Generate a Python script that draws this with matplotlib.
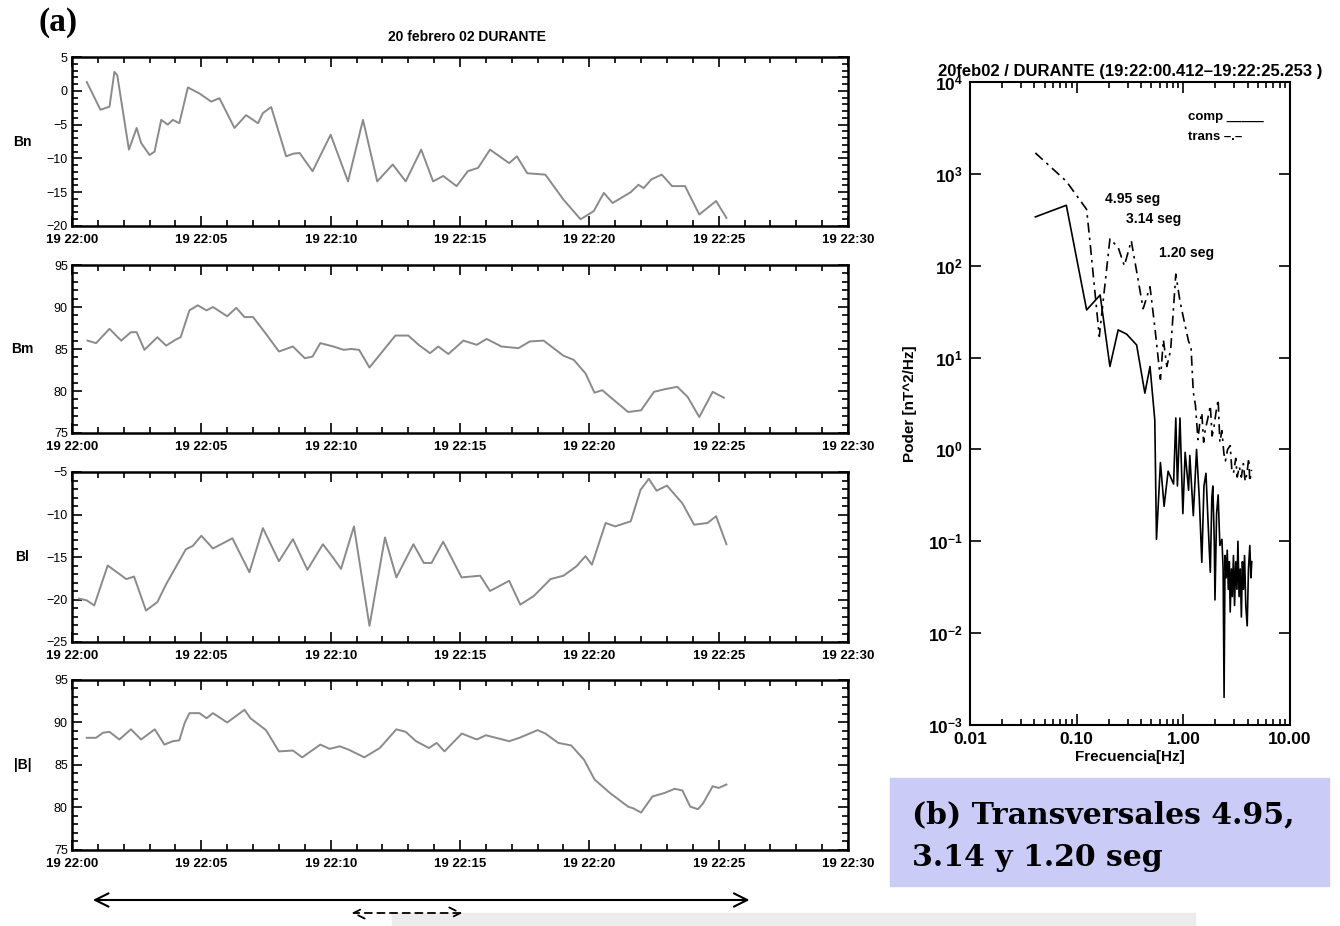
import numpy as np
import matplotlib
matplotlib.use("Agg")
import matplotlib.pyplot as plt
from matplotlib.ticker import FixedLocator, MultipleLocator, LogLocator, NullLocator, FuncFormatter
from matplotlib.patches import Rectangle

plt.rcParams['font.family'] = ['Liberation Sans', 'DejaVu Sans']

# --- field components, seconds after 19 22:00 ---
bn_t = [0.57, 1.1, 1.45, 1.64, 1.75, 2.2, 2.5, 2.67, 3.0, 3.19, 3.45, 3.7, 3.9, 4.15, 4.48,
        4.93, 5.38, 5.7, 6.28, 6.73, 7.19, 7.38, 7.7, 8.28, 8.55, 8.8, 9.3, 10.0, 10.67,
        11.25, 11.8, 12.4, 12.9, 13.5, 13.96, 14.35, 14.87, 15.3, 15.7, 16.16, 16.9, 17.2,
        17.6, 18.3, 19.0, 19.66, 20.17, 20.56, 20.9, 21.6, 21.9, 22.1, 22.4, 22.8, 23.2,
        23.7, 24.25, 24.9, 25.3]
bn_v = [1.3, -2.8, -2.35, 2.8, 2.3, -8.7, -5.5, -7.7, -9.5, -9.0, -4.3, -5.0, -4.3, -4.8, 0.5,
        -0.4, -1.6, -1.1, -5.5, -3.6, -4.8, -3.3, -2.4, -9.7, -9.3, -9.2, -11.9, -6.5, -13.4,
        -4.3, -13.4, -10.9, -13.4, -8.7, -13.4, -12.6, -14.1, -11.9, -11.4, -8.7, -10.7, -9.7,
        -12.2, -12.4, -16.1, -19.0, -17.8, -15.1, -16.6, -15.0, -13.9, -14.4, -13.1, -12.4, -14.1,
        -14.1, -18.3, -16.3, -18.8]

bm_t = [0.6, 0.93, 1.45, 1.9, 2.28, 2.5, 2.8, 3.3, 3.64, 4.0, 4.2, 4.54, 4.86, 5.2, 5.45, 6.0,
        6.35, 6.67, 7.0, 7.5, 8.0, 8.54, 9.0, 9.3, 9.6, 10.1, 10.5, 10.8, 11.1, 11.5, 12.0, 12.5,
        13.0, 13.4, 13.84, 14.16, 14.55, 15.13, 15.65, 16.03, 16.6, 17.26, 17.7, 18.23, 19.0,
        19.4, 19.85, 20.2, 20.5, 20.8, 21.5, 22.0, 22.5, 22.9, 23.4, 23.8, 24.25, 24.77, 25.2]
bm_v = [86.0, 85.7, 87.4, 86.0, 87.0, 87.0, 84.9, 86.4, 85.4, 86.1, 86.4, 89.6, 90.2, 89.6, 90.0, 88.9,
        89.9, 88.8, 88.8, 86.8, 84.7, 85.3, 83.9, 84.1, 85.7, 85.3, 84.9, 85.0, 84.9, 82.8, 84.7, 86.6,
        86.6, 85.5, 84.5, 85.3, 84.4, 86.0, 85.5, 86.2, 85.3, 85.1, 85.9, 86.0, 84.2,
        83.7, 82.1, 79.8, 80.1, 79.3, 77.5, 77.7, 79.9, 80.2, 80.5, 79.3, 76.9, 79.9, 79.2]

bl_t = [0.28, 0.57, 0.86, 1.38, 2.1, 2.4, 2.86, 3.3, 3.64, 4.4, 4.67, 5.0, 5.45, 6.2, 6.86, 7.38,
        8.0, 8.54, 9.1, 9.7, 10.1, 10.4, 10.9, 11.5, 12.1, 12.54, 13.2, 13.6, 13.9, 14.35, 14.74,
        15.06, 15.78, 16.16, 16.9, 17.33, 17.85, 18.5, 19.0, 19.5, 19.85, 20.1, 20.63, 21.0, 21.6,
        21.98, 22.3, 22.6, 23.0, 23.6, 24.05, 24.57, 24.9, 25.3]
bl_v = [-19.9, -20.1, -20.7, -16.0, -17.6, -17.3, -21.3, -20.3, -18.2, -14.1, -13.7, -12.5, -14.0,
        -12.8, -16.8, -11.6, -15.5, -12.9, -16.5, -13.5, -15.1, -16.4, -11.4, -23.1, -12.7, -17.4,
        -13.5, -15.7, -15.7, -13.2, -15.5, -17.4, -17.2, -19.0, -17.8, -20.6, -19.6, -17.6, -17.2,
        -16.1, -14.9, -15.9, -11.0, -11.4, -10.8, -7.1, -5.8, -7.2, -6.6, -8.7, -11.2, -11.0,
        -10.2, -13.5]

bt_t = [0.57, 0.93, 1.2, 1.45, 1.83, 2.28, 2.67, 3.2, 3.57, 3.9, 4.15, 4.35, 4.54, 4.93, 5.2, 5.45,
        6.0, 6.67, 6.9, 7.5, 8.0, 8.54, 8.9, 9.6, 9.96, 10.35, 10.7, 11.3, 11.9, 12.54, 12.9, 13.3,
        13.8, 14.1, 14.4, 15.07, 15.65, 16.0, 16.9, 17.3, 18.0, 18.3, 18.8, 19.3, 19.8, 20.2, 20.8,
        21.5, 21.7, 22.0, 22.44, 22.9, 23.3, 23.6, 23.9, 24.2, 24.4, 24.77, 25.0, 25.3]
bt_v = [88.2, 88.2, 88.8, 88.9, 88.0, 89.2, 88.0, 89.2, 87.4, 87.8, 87.9, 89.9, 91.1, 91.1, 90.5, 91.1,
        90.0, 91.5, 90.5, 89.1, 86.6, 86.7, 85.9, 87.4, 86.9, 87.2, 86.8, 85.9, 87.0, 89.2, 88.9, 87.8,
        87.0, 87.6, 86.6, 88.7, 88.0, 88.5, 87.8, 88.2, 89.1, 88.7, 87.6, 87.3, 85.6, 83.3, 81.7,
        80.1, 79.9, 79.4, 81.3, 81.7, 82.2, 82.0, 80.1, 79.8, 80.5, 82.5, 82.3, 82.7]

panel_names = ["Bn", "Bm", "Bl", "|B|"]
panel_ylims = [(-20, 5), (75, 95), (-25, -5), (75, 95)]
time_ticks = [0, 5, 10, 15, 20, 25, 30]
time_labels = ["19 22:00", "19 22:05", "19 22:10", "19 22:15", "19 22:20", "19 22:25", "19 22:30"]

# --- power spectra ---
freq_comp = [0.041, 0.080, 0.124, 0.166, 0.205, 0.245, 0.294, 0.365, 0.436, 0.487, 0.54, 0.56, 0.61,
             0.66, 0.72, 0.81, 0.85, 0.88, 0.93, 0.99, 1.04, 1.12, 1.15, 1.24, 1.33, 1.41, 1.49, 1.56,
             1.63, 1.71, 1.79, 1.85, 1.89, 1.95, 1.98, 2.05, 2.12, 2.2, 2.30, 2.36, 2.41, 2.46, 2.52,
             2.58, 2.64, 2.70, 2.75, 2.82, 2.88, 2.95, 3.02, 3.10, 3.18, 3.25, 3.33, 3.42, 3.50, 3.58,
             3.66, 3.75, 3.85, 3.97, 4.08, 4.2, 4.3, 4.38]
pow_comp = [340, 455, 33, 48, 8.0, 20, 18, 13.7, 4.1, 8.0, 2.1, 0.105, 0.72,
            0.24, 0.58, 0.42, 2.2, 0.4, 2.2, 0.20, 0.93, 0.36, 0.86, 0.19, 1.0, 0.3, 0.059, 0.4,
            0.55, 0.15, 0.046, 0.3, 0.40, 0.1, 0.023, 0.2, 0.32, 0.09, 0.105, 0.05, 0.002, 0.07, 0.04,
            0.08, 0.03, 0.06, 0.017, 0.05, 0.025, 0.07, 0.02, 0.06, 0.03, 0.1, 0.025, 0.05, 0.015, 0.06,
            0.03, 0.07, 0.02, 0.012, 0.05, 0.09, 0.04, 0.06]

freq_trans = [0.041, 0.080, 0.124, 0.133, 0.163, 0.205, 0.245, 0.28, 0.325, 0.42, 0.487, 0.54, 0.61,
              0.65, 0.70, 0.76, 0.85, 0.93, 1.0, 1.06, 1.12, 1.18, 1.24, 1.30, 1.37, 1.43, 1.49, 1.55,
              1.6, 1.7, 1.79, 1.86, 1.93, 2.02, 2.12, 2.2, 2.3, 2.4, 2.48, 2.6, 2.75, 2.85, 2.95, 3.1,
              3.2, 3.35, 3.5, 3.65, 3.8, 3.95, 4.1, 4.2, 4.35]
pow_trans = [1690, 830, 410, 187, 17, 196, 158, 100, 187, 34, 59, 21.6, 5.8,
             15.6, 8, 12, 81, 41, 27.5, 20, 15, 13.2, 4.2, 3.0, 1.28, 2.0, 2.5, 1.2,
             1.6, 2.2, 3.0, 1.4, 1.7, 2.5, 3.5, 1.2, 1.6, 0.9, 0.75, 1.0, 1.1, 0.6, 0.55, 0.8,
             0.5, 0.65, 0.5, 0.7, 0.45, 0.55, 0.8, 0.45, 0.6]

peak_labels = ["4.95 seg", "3.14 seg", "1.20 seg"]
span_full = [0.7, 26.3]
span_wave = [10.7, 15.2]
caption_lines = ["(b) Transversales 4.95,", "3.14 y 1.20 seg"]

W, H = 1340, 926
fig = plt.figure(figsize=(W / 100, H / 100), dpi=100)


def fbox(x0, y_top, x1, y_bot):
    # pixel box -> figure fraction rect
    return [x0 / W, 1 - y_bot / H, (x1 - x0) / W, (y_bot - y_top) / H]


panel_boxes = [(57, 226), (265, 433), (472, 642), (680, 850)]
series = [(bn_t, bn_v), (bm_t, bm_v), (bl_t, bl_v), (bt_t, bt_v)]
axes = []
for (top, bot), (t, v), name, ylim in zip(panel_boxes, series, panel_names, panel_ylims):
    ax = fig.add_axes(fbox(72, top, 848, bot))
    ax.plot(t, v, color="#8a8a8a", lw=1.4)
    ax.set_xlim(0, 30)
    ax.set_ylim(*ylim)
    ax.xaxis.set_major_locator(FixedLocator(time_ticks))
    ax.set_xticklabels(time_labels, fontsize=9.5, fontweight="bold")
    ax.xaxis.set_minor_locator(MultipleLocator(1))
    ax.yaxis.set_major_locator(MultipleLocator(5))
    ax.yaxis.set_minor_locator(MultipleLocator(1))
    for lab in ax.get_yticklabels():
        lab.set_fontsize(9)
    ax.tick_params(which="both", direction="in", top=True, right=True, width=1.2)
    ax.tick_params(which="major", length=7, pad=3)
    ax.tick_params(which="minor", length=4)
    ax.tick_params(axis="x", which="major", pad=6)
    for s in ax.spines.values():
        s.set_linewidth(1.8)
    ax.set_ylabel(name, rotation=0, fontsize=10, fontweight="bold", va="center", ha="center")
    ax.yaxis.set_label_coords(-0.064, 0.5)
    axes.append(ax)

fig.text(467 / W, 1 - 37 / H, "20 febrero 02 DURANTE", ha="center", va="center",
         fontsize=10, fontweight="bold")
fig.text(38 / W, 1 - 22 / H, "(a)", ha="left", va="center", fontsize=24,
         fontweight="bold", family="Liberation Serif")

# arrows marking the analysed interval
ax_b = axes[-1]
ax_b.annotate("", xy=(span_full[0], 1 - 900 / H), xytext=(span_full[1], 1 - 900 / H),
              xycoords=("data", "figure fraction"), textcoords=("data", "figure fraction"),
              arrowprops=dict(arrowstyle="<->", lw=1.5, color="black",
                              mutation_scale=24), annotation_clip=False)
ax_b.annotate("", xy=(span_wave[0], 1 - 913 / H), xytext=(span_wave[1], 1 - 913 / H),
              xycoords=("data", "figure fraction"), textcoords=("data", "figure fraction"),
              arrowprops=dict(arrowstyle="<->", lw=1.3, color="black", ls=(0, (4, 3)),
                              mutation_scale=20), annotation_clip=False)
fig.add_artist(Rectangle((392 / W, 0), (1195 - 392) / W, 13 / H, transform=fig.transFigure,
                         color="#ececec", zorder=0))

# spectrum panel
axs = fig.add_axes(fbox(970, 82, 1290, 725))
axs.plot(freq_comp, pow_comp, color="black", lw=1.2)
axs.plot(freq_trans, pow_trans, color="black", lw=1.2, ls=(0, (6, 3, 1.5, 3)))
axs.set_xscale("log")
axs.set_yscale("log")
axs.set_xlim(0.01, 10)
axs.set_ylim(1e-3, 1e4)
axs.xaxis.set_major_locator(LogLocator(base=10))
axs.xaxis.set_minor_locator(LogLocator(base=10, subs=np.arange(2, 10)))
axs.xaxis.set_major_formatter(FuncFormatter(lambda x, p: "%.2f" % x))
axs.yaxis.set_major_locator(LogLocator(base=10, numticks=10))
axs.yaxis.set_minor_locator(NullLocator())
axs.tick_params(which="both", direction="in", top=True, right=True, width=1.2, labelsize=12.5)
axs.tick_params(which="major", length=8, pad=5)
axs.tick_params(which="minor", length=4)
for lab in axs.get_xticklabels() + axs.get_yticklabels():
    lab.set_fontweight("bold")
for s in axs.spines.values():
    s.set_linewidth(1.5)
axs.set_xlabel("Frecuencia[Hz]", fontsize=11, fontweight="bold", labelpad=2)
axs.set_ylabel("Poder [nT^2/Hz]", fontsize=11, fontweight="bold", labelpad=8)
axs.set_title("20feb02 / DURANTE (19:22:00.412\u201319:22:25.253 )", fontsize=12,
              fontweight="bold", pad=4)
axs.text(0.681, 0.946, "comp _____", transform=axs.transAxes, fontsize=9.5,
         fontweight="bold", va="center")
axs.text(0.681, 0.914, "trans \u2013.\u2013", transform=axs.transAxes, fontsize=9.5,
         fontweight="bold", va="center")
for lab, (px, py) in zip(peak_labels, [(0.422, 0.818), (0.4875, 0.787), (0.59, 0.734)]):
    axs.text(px, py, lab, transform=axs.transAxes, fontsize=10, fontweight="bold", va="center")

# caption box
fig.add_artist(Rectangle((890 / W, 1 - 886 / H), (1329 - 890) / W, 108 / H,
                         transform=fig.transFigure, color="#cbcbf7", zorder=0))
for line, ypix in zip(caption_lines, [815, 858]):
    fig.text(912 / W, 1 - ypix / H, line, ha="left", va="center", fontsize=21.5,
             fontweight="bold", family="DejaVu Serif")

fig.savefig("out.png", dpi=100)
